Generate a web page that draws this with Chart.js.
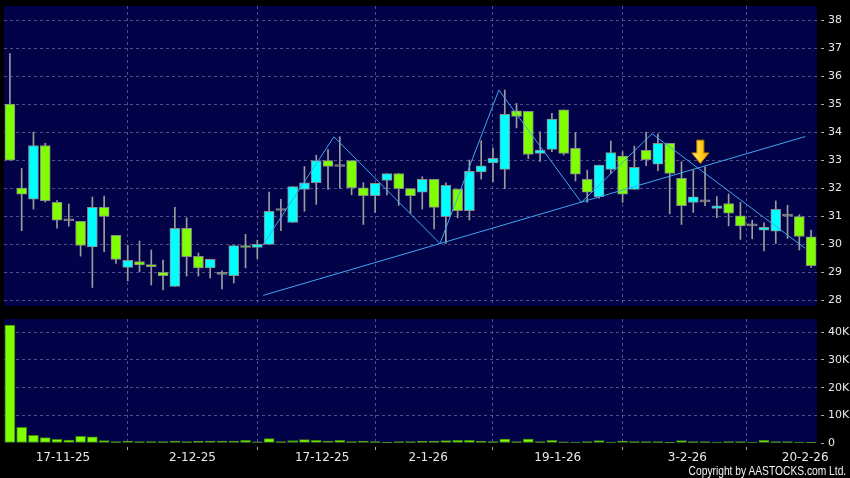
<!DOCTYPE html>
<html>
<head>
<meta charset="utf-8">
<script src="https://cdn.jsdelivr.net/npm/chart.js@4.4.1/dist/chart.umd.min.js"></script>
<style>
  html, body { margin: 0; padding: 0; background: #000; }
  #contenedor { position: relative; width: 850px; height: 478px; overflow: hidden; background: #000; }
  #precioWrap { position: absolute; left: 0; top: 0; }
  #volumenWrap { position: absolute; left: 0; top: 312px; }
  #copyright {
    position: absolute; right: 4px; top: 464px;
    font-family: "Liberation Sans", Arial, sans-serif;
    font-size: 12.5px; line-height: 14px; color: #f2f2f2; white-space: nowrap;
    transform: scaleX(0.82); transform-origin: right top;
  }
</style>
</head>
<body>
<div id="contenedor">
  <div id="precioWrap"><canvas id="precioChart" width="850" height="312"></canvas></div>
  <div id="volumenWrap"><canvas id="volumenChart" width="850" height="166"></canvas></div>
  <div id="copyright">Copyright by AASTOCKS.com Ltd.</div>
</div>
<script>
// Velas diarias (apertura / maximo / minimo / cierre)
const aperturas = [35.0, 32.0, 31.6, 33.52, 31.49, 30.83, 30.81, 29.9, 31.31, 30.31,
  29.17, 29.38, 29.27, 28.99, 28.49, 30.56, 29.56, 29.15, 28.92, 28.87,
  29.95, 29.88, 29.99, 31.2, 30.77, 31.95, 32.19, 32.98, 32.77, 32.98,
  32.01, 31.73, 32.27, 32.52, 31.98, 31.85, 32.31, 30.98, 31.96, 31.19,
  32.58, 32.9, 32.67, 34.76, 34.74, 33.24, 33.38, 34.79, 33.42, 32.31,
  31.69, 32.67, 33.14, 31.95, 33.35, 32.85, 33.6, 32.35, 31.49, 31.51,
  31.27, 31.45, 31.01, 30.65, 30.5, 30.46, 31.0, 30.98, 30.26];
const maximos = [36.8, 32.7, 34.0, 33.6, 31.55, 31.43, 30.81, 31.68, 31.71, 30.31,
  29.96, 30.11, 29.79, 29.43, 31.31, 30.94, 29.68, 29.46, 29.05, 29.95,
  30.35, 30.14, 31.86, 31.6, 32.05, 32.77, 33.17, 33.37, 33.83, 32.98,
  32.19, 32.17, 32.52, 32.52, 31.98, 32.4, 32.31, 32.19, 31.96, 33.0,
  33.69, 33.43, 35.5, 35.02, 34.74, 34.01, 34.67, 34.79, 33.98, 32.64,
  32.82, 33.68, 33.3, 33.5, 34.0, 33.94, 33.6, 32.94, 32.64, 32.76,
  31.7, 31.79, 31.49, 30.85, 30.76, 31.54, 31.39, 31.05, 30.5];
const minimos = [33.0, 30.48, 31.25, 31.5, 30.57, 30.64, 29.57, 28.45, 29.73, 29.31,
  28.69, 29.01, 28.54, 28.36, 28.49, 28.86, 28.86, 28.79, 28.4, 28.61,
  29.15, 29.48, 29.99, 30.48, 30.77, 31.17, 31.42, 31.95, 31.99, 31.76,
  30.7, 31.13, 31.76, 31.38, 31.1, 31.25, 30.54, 30.02, 30.94, 30.86,
  32.32, 32.23, 31.98, 34.15, 33.05, 32.95, 33.3, 33.18, 32.25, 31.49,
  31.64, 32.52, 31.49, 31.95, 32.8, 32.62, 31.08, 30.7, 31.13, 31.37,
  30.94, 30.65, 30.17, 30.19, 29.76, 30.02, 30.2, 29.79, 29.17];
const cierres = [33.0, 31.78, 33.52, 31.55, 30.85, 30.83, 29.95, 31.31, 30.99, 29.45,
  29.42, 29.26, 29.19, 28.87, 30.56, 29.55, 29.15, 29.46, 28.92, 29.95,
  29.88, 29.99, 31.17, 31.2, 32.05, 32.19, 32.98, 32.77, 32.77, 32.01,
  31.73, 32.17, 32.52, 31.98, 31.73, 32.31, 31.31, 32.1, 31.19, 32.6,
  32.79, 33.06, 34.63, 34.56, 33.2, 33.36, 34.46, 33.24, 32.5, 31.85,
  32.82, 33.27, 31.78, 32.74, 33.01, 33.6, 32.52, 31.37, 31.69, 31.51,
  31.37, 31.1, 30.65, 30.65, 30.6, 31.24, 31.0, 30.27, 29.23];
const volumenes = [42600, 5700, 2800, 2000, 1300, 1100, 2400, 2200, 850, 500,
  700, 500, 500, 500, 700, 500, 600, 700, 700, 700,
  1000, 400, 1600, 500, 900, 1200, 1000, 700, 1000, 500,
  700, 500, 100, 500, 500, 600, 600, 850, 1000, 1000,
  600, 500, 1450, 500, 1450, 500, 1000, 400, 350, 500,
  850, 350, 700, 500, 500, 500, 100, 850, 500, 500,
  350, 500, 500, 350, 1000, 500, 500, 350, 100];

// Etiquetas del eje de fechas y su posicion (indice de vela)
const fechas = ['17-11-25', '2-12-25', '17-12-25', '2-1-26', '19-1-26', '3-2-26', '20-2-26'];
const fechasIdx = [5, 16, 27, 36, 47, 58, 68];
const preciosEje = [28, 29, 30, 31, 32, 33, 34, 35, 36, 37, 38];
const volumenEje = [0, 10000, 20000, 30000, 40000];
const volumenEtiquetas = ['0', '10K', '20K', '30K', '40K'];

// Lineas dibujadas sobre el grafico
const zigzagIdx = [21.5, 27.5, 36.5, 41.5, 48.5, 54.5, 67.5];
const zigzagPrecio = [29.99, 33.83, 30.02, 35.5, 31.49, 33.94, 29.85];
const tendenciaIdx = [21.5, 67.5];
const tendenciaPrecio = [28.17, 33.84];

// Flecha de senal
const flechaIdx = [58.6];
const flechaPunta = [32.88];
const flechaTope = [33.71];

const AZUL_PANEL = '#020248';
const REJILLA = 'rgba(120,120,165,0.65)';
const VERDE = '#80ff00';
const CIAN = '#00ffff';
const GRIS = '#8c8c8c';
const LINEA = '#3fa6ee';
const TEXTO = '#e8e8e8';

const velas = cierres.map((c, i) => i);

const fondoPanel = {
  id: 'fondoPanel',
  beforeDraw(chart) {
    const { ctx, chartArea: a } = chart;
    ctx.save();
    ctx.fillStyle = '#000';
    ctx.fillRect(0, 0, chart.width, chart.height);
    ctx.fillStyle = AZUL_PANEL;
    ctx.fillRect(a.left, a.top, a.right - a.left, a.bottom - a.top);
    ctx.restore();
  }
};

const flecha = {
  id: 'flecha',
  afterDatasetsDraw(chart) {
    const { ctx, scales: { x, y } } = chart;
    flechaIdx.forEach((v, k) => {
      const cx = x.getPixelForValue(v);
      const punta = y.getPixelForValue(flechaPunta[k]);
      const tope = y.getPixelForValue(flechaTope[k]);
      const cuello = punta - 10.5;
      ctx.save();
      ctx.beginPath();
      ctx.moveTo(cx - 3.5, tope);
      ctx.lineTo(cx + 3.5, tope);
      ctx.lineTo(cx + 3.5, cuello);
      ctx.lineTo(cx + 8.5, cuello);
      ctx.lineTo(cx, punta);
      ctx.lineTo(cx - 8.5, cuello);
      ctx.lineTo(cx - 3.5, cuello);
      ctx.closePath();
      const grad = ctx.createLinearGradient(cx - 8, 0, cx + 8, 0);
      grad.addColorStop(0, '#ffe680');
      grad.addColorStop(0.5, '#ffd21f');
      grad.addColorStop(1, '#f0a800');
      ctx.fillStyle = grad;
      ctx.fill();
      ctx.strokeStyle = '#c88400';
      ctx.lineWidth = 1;
      ctx.stroke();
      ctx.restore();
    });
  }
};

function colorVela(i) {
  if (cierres[i] > aperturas[i]) return CIAN;
  if (cierres[i] < aperturas[i]) return VERDE;
  return GRIS;
}

// sin margenes extra: el area del panel la fija solo el layout.padding
function sinRelleno(s) {
  s.paddingTop = 0;
  s.paddingBottom = 0;
  s.paddingLeft = 0;
  s.paddingRight = 0;
}

function ejeX(conEtiquetas) {
  return {
    type: 'linear',
    min: -0.5,
    max: 68.5,
    offset: false,
    afterBuildTicks: s => { s.ticks = fechasIdx.map(i => ({ value: i - 0.5 })); },
    afterFit: s => { s.height = conEtiquetas ? 35 : 0; sinRelleno(s); },
    grid: {
      color: REJILLA,
      lineWidth: 1,
      drawTicks: conEtiquetas,
      tickLength: 7,
      tickColor: '#aaaaaa',
      tickBorderDash: [0, 4, 3, 20]
    },
    border: { display: false, dash: [3, 3] },
    ticks: {
      display: conEtiquetas,
      autoSkip: false,
      maxRotation: 0,
      padding: 1,
      color: TEXTO,
      font: { family: 'DejaVu Sans', size: 12 },
      callback: (v, k) => fechas[k]
    }
  };
}

function ejeY(opciones) {
  return Object.assign({
    position: 'right',
    afterFit: s => { s.width = 33; sinRelleno(s); },
    grid: {
      color: REJILLA,
      lineWidth: 1,
      drawTicks: true,
      tickLength: 7,
      tickColor: '#aaaaaa',
      tickBorderDash: [0, 4, 3, 20]
    },
    border: { display: false, dash: [3, 3] },
    ticks: {
      padding: 4,
      color: TEXTO,
      font: { family: 'DejaVu Sans', size: 11 }
    }
  }, opciones);
}

function dibujarPrecio() {
  const ejePrecio = ejeY({
    min: 27.79,
    max: 38.5,
    afterBuildTicks: s => { s.ticks = preciosEje.map(v => ({ value: v })); }
  });
  ejePrecio.ticks.callback = v => String(v);

  new Chart(document.getElementById('precioChart'), {
    type: 'bar',
    data: {
      datasets: [
        {
          type: 'line',
          data: zigzagIdx.map((x, k) => ({ x: x, y: zigzagPrecio[k] })),
          borderColor: LINEA,
          borderWidth: 1,
          pointRadius: 0,
          tension: 0,
          order: 0
        },
        {
          type: 'line',
          data: tendenciaIdx.map((x, k) => ({ x: x, y: tendenciaPrecio[k] })),
          borderColor: LINEA,
          borderWidth: 1,
          pointRadius: 0,
          tension: 0,
          order: 0
        },
        {
          data: velas.map(i => ({ x: i, y: [aperturas[i], cierres[i]] })),
          backgroundColor: velas.map(colorVela),
          borderColor: '#8a8a8a',
          borderWidth: 1,
          borderSkipped: false,
          barThickness: 10,
          minBarLength: 2,
          grouped: false,
          order: 1
        },
        {
          data: velas.map(i => ({ x: i, y: [minimos[i], maximos[i]] })),
          backgroundColor: '#9c9c9c',
          borderWidth: 0,
          barThickness: 1,
          grouped: false,
          order: 2
        }
      ]
    },
    options: {
      responsive: false,
      animation: false,
      layout: { padding: { left: 4, top: 6, bottom: 6, right: 0 } },
      plugins: { legend: { display: false }, tooltip: { enabled: false } },
      scales: { x: ejeX(false), y: ejePrecio }
    },
    plugins: [fondoPanel, flecha]
  });
}

function dibujarVolumen() {
  const ejeVol = ejeY({
    min: 0,
    max: 44800,
    afterBuildTicks: s => { s.ticks = volumenEje.map(v => ({ value: v })); }
  });
  ejeVol.ticks.callback = (v, k) => volumenEtiquetas[k];
  ejeVol.grid.color = c => (c.tick && c.tick.value === 0) ? 'rgba(0,0,0,0)' : REJILLA;

  new Chart(document.getElementById('volumenChart'), {
    type: 'bar',
    data: {
      datasets: [{
        data: velas.map(i => ({ x: i, y: volumenes[i] })),
        backgroundColor: VERDE,
        borderColor: '#3f8a00',
        borderWidth: 1,
        borderSkipped: false,
        barThickness: 10,
        grouped: false
      }]
    },
    options: {
      responsive: false,
      animation: false,
      layout: { padding: { left: 4, top: 7, bottom: 0, right: 0 } },
      plugins: { legend: { display: false }, tooltip: { enabled: false } },
      scales: { x: ejeX(true), y: ejeVol }
    },
    plugins: [fondoPanel]
  });
}

window.addEventListener('DOMContentLoaded', () => {
  dibujarPrecio();
  dibujarVolumen();
});
</script>
</body>
</html>
